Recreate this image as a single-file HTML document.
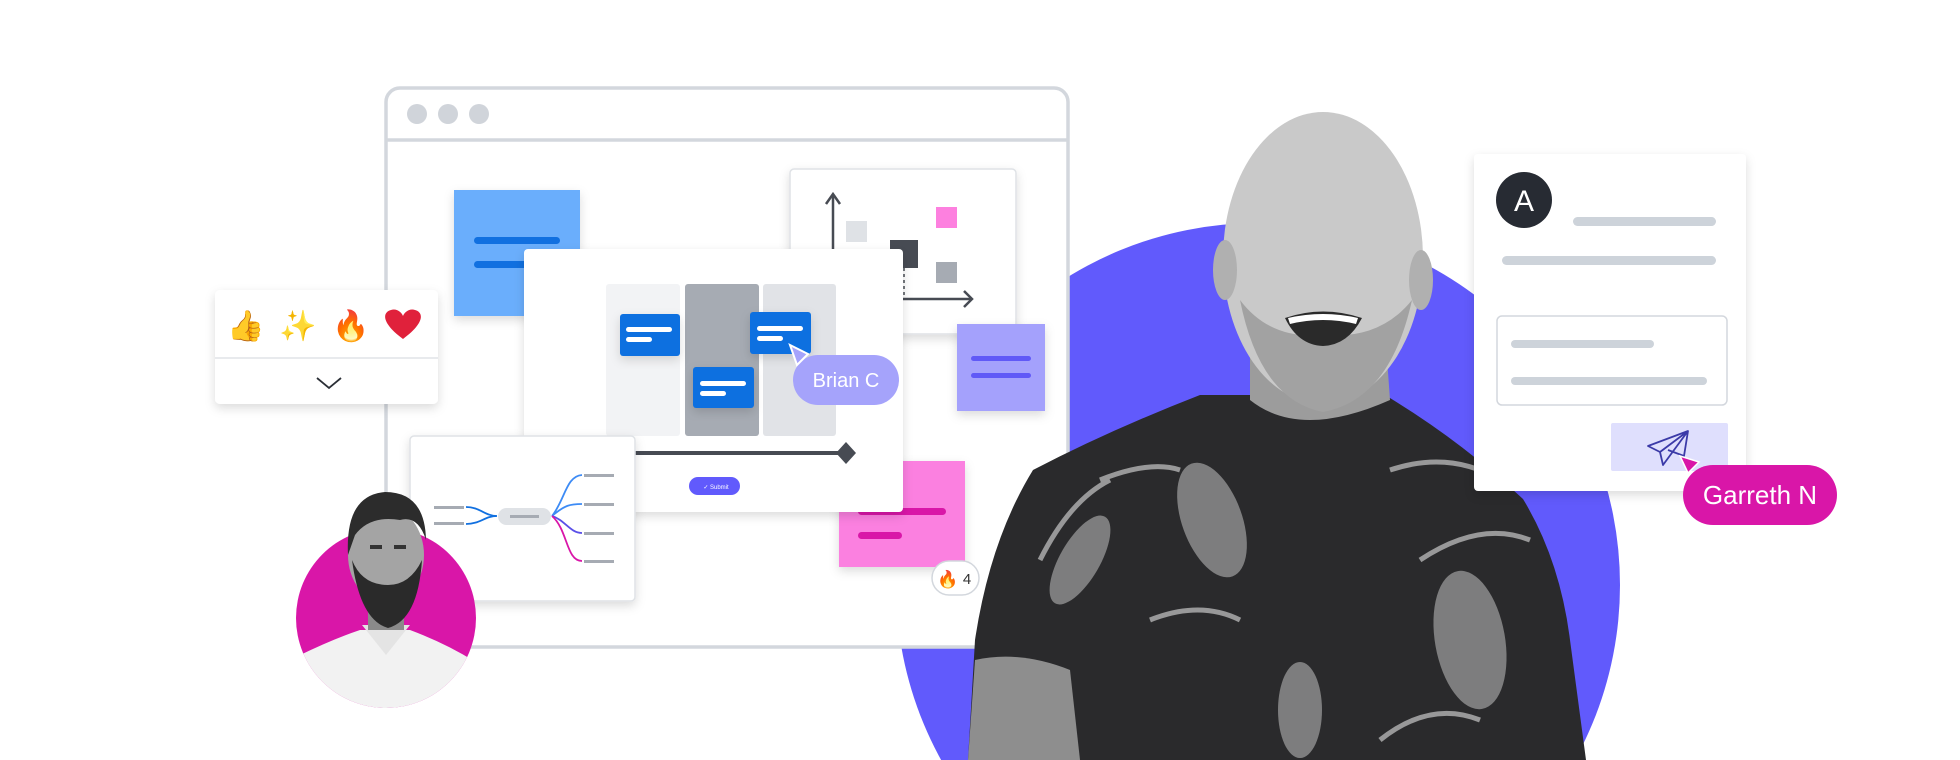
<!DOCTYPE html>
<html><head><meta charset="utf-8"><style>
html,body{margin:0;padding:0;background:#fff;width:1960px;height:760px;overflow:hidden;}
svg{display:block;}
text{font-family:"Liberation Sans",sans-serif;}
</style></head><body>
<svg width="1960" height="760" viewBox="0 0 1960 760" xmlns="http://www.w3.org/2000/svg">
<defs>
<filter id="sh" x="-20%" y="-20%" width="140%" height="150%"><feDropShadow dx="0" dy="4" stdDeviation="5" flood-color="#000" flood-opacity="0.14"/></filter>
<clipPath id="pc2"><rect x="0" y="0" width="1960" height="618"/><circle cx="386" cy="618" r="90"/></clipPath>
<clipPath id="frame"><rect x="0" y="0" width="1960" height="760"/></clipPath>
</defs>
<g clip-path="url(#frame)">
<circle cx="1258" cy="585" r="362" fill="#615afc"/>
</g>
<rect x="386" y="88" width="682" height="559" rx="14" fill="#fff" stroke="#d3d7dd" stroke-width="3.5"/>
<line x1="386" y1="140" x2="1068" y2="140" stroke="#d3d7dd" stroke-width="3.5"/>
<circle cx="417" cy="114" r="10" fill="#d0d4da"/><circle cx="448" cy="114" r="10" fill="#d0d4da"/><circle cx="479" cy="114" r="10" fill="#d0d4da"/>
<rect x="454" y="190" width="126" height="126" fill="#6aaefc" filter="url(#sh)"/>
<rect x="474" y="237" width="86" height="7" rx="3.5" fill="#1170e0"/>
<rect x="474" y="261" width="86" height="7" rx="3.5" fill="#1170e0"/>
<rect x="790" y="169" width="226" height="165" rx="4" fill="#fff" stroke="#dfe2e6" stroke-width="1.5" filter="url(#sh)"/>
<line x1="833" y1="196" x2="833" y2="300" stroke="#474b53" stroke-width="2.5"/>
<polyline points="826,204 833,194 840,204" fill="none" stroke="#474b53" stroke-width="2.5"/>
<line x1="833" y1="299" x2="972" y2="299" stroke="#474b53" stroke-width="2.5"/>
<polyline points="964,291 972,299 964,307" fill="none" stroke="#474b53" stroke-width="2.5"/>
<rect x="846" y="221" width="21" height="21" fill="#dfe2e6"/>
<rect x="936" y="207" width="21" height="21" fill="#fd80df"/>
<rect x="890" y="240" width="28" height="28" fill="#474b53"/>
<rect x="936" y="262" width="21" height="21" fill="#a6abb3"/>
<line x1="904" y1="268" x2="904" y2="299" stroke="#474b53" stroke-width="1.5" stroke-dasharray="3,3"/>
<rect x="957" y="324" width="88" height="87" fill="#a4a1fc" filter="url(#sh)"/>
<rect x="971" y="356" width="60" height="5" rx="2.5" fill="#6059f7"/>
<rect x="971" y="373" width="60" height="5" rx="2.5" fill="#6059f7"/>
<rect x="839" y="461" width="126" height="106" fill="#fb80e0" filter="url(#sh)"/>
<rect x="858" y="508" width="88" height="7" rx="3.5" fill="#d916a8"/>
<rect x="858" y="532" width="44" height="7" rx="3.5" fill="#d916a8"/>
<rect x="524" y="249" width="379" height="263" rx="4" fill="#fff" filter="url(#sh)"/>
<rect x="606" y="284" width="74" height="152" rx="3" fill="#f2f3f5"/>
<rect x="685" y="284" width="74" height="152" rx="3" fill="#a6abb3"/>
<rect x="763" y="284" width="73" height="152" rx="3" fill="#e1e3e7"/>
<rect x="620" y="314" width="60" height="42" rx="3" fill="#1170e0" filter="url(#sh)"/>
<rect x="626" y="327" width="46" height="5" rx="2.5" fill="#fff"/><rect x="626" y="337" width="26" height="5" rx="2.5" fill="#fff"/>
<rect x="750" y="312" width="61" height="42" rx="3" fill="#1170e0" filter="url(#sh)"/>
<rect x="757" y="326" width="46" height="5" rx="2.5" fill="#fff"/><rect x="757" y="336" width="26" height="5" rx="2.5" fill="#fff"/>
<rect x="693" y="367" width="61" height="41" rx="3" fill="#1170e0" filter="url(#sh)"/>
<rect x="700" y="381" width="46" height="5" rx="2.5" fill="#fff"/><rect x="700" y="391" width="26" height="5" rx="2.5" fill="#fff"/>
<line x1="620" y1="453" x2="840" y2="453" stroke="#474b53" stroke-width="4"/>
<polygon points="846,442 856,453 846,464 836,453" fill="#474b53"/>
<rect x="689" y="477" width="51" height="18" rx="9" fill="#615afc"/>
<text x="716" y="489" font-size="6" fill="#fff" text-anchor="middle">✓ Submit</text>
<rect x="793" y="355" width="106" height="50" rx="25" fill="#a5a3fb"/>
<text x="846" y="387" font-size="20" fill="#fff" text-anchor="middle">Brian C</text>
<polygon points="790,345 808,354 797,365" fill="#a5a3fb" stroke="#fff" stroke-width="2"/>
<rect x="215" y="290" width="223" height="114" rx="5" fill="#fff" filter="url(#sh)"/>
<line x1="215" y1="358" x2="438" y2="358" stroke="#e1e3e7" stroke-width="1.5"/>
<text x="246" y="336" font-size="30" text-anchor="middle" fill="#f6c443">👍</text>
<text x="298" y="336" font-size="30" text-anchor="middle" fill="#f6a623">✨</text>
<text x="351" y="336" font-size="30" text-anchor="middle" fill="#f28a0d">🔥</text>
<path d="M403,339 C380,322 383,312 391,310 C397,308 402,313 403,316 C404,313 409,308 415,310 C423,312 426,322 403,339 Z" fill="#e0213b"/>
<polyline points="317,378 329,388 341,378" fill="none" stroke="#2b2f36" stroke-width="1.8"/>
<rect x="410" y="436" width="225" height="165" rx="4" fill="#fff" stroke="#dfe2e6" stroke-width="1.5" filter="url(#sh)"/>
<rect x="434" y="506" width="30" height="3" fill="#a6abb3"/><rect x="434" y="522" width="30" height="3" fill="#a6abb3"/>
<path d="M466,507 C480,507 485,516 497,516 M466,524 C480,524 485,516 497,516" fill="none" stroke="#1170e0" stroke-width="1.8"/>
<rect x="498" y="508" width="53" height="17" rx="8.5" fill="#dfe2e6"/>
<rect x="510" y="515" width="29" height="3" fill="#a6abb3"/>
<path d="M552,516 C565,500 566,476 582,475 M552,516 C565,505 570,504 582,504" fill="none" stroke="#3d8bf5" stroke-width="1.8"/>
<path d="M552,516 C565,520 570,533 582,533" fill="none" stroke="#5a4fe8" stroke-width="1.8"/>
<path d="M552,516 C568,530 566,561 582,561" fill="none" stroke="#d916a8" stroke-width="1.8"/>
<rect x="584" y="474" width="30" height="3" fill="#a6abb3"/><rect x="584" y="503" width="30" height="3" fill="#a6abb3"/>
<rect x="584" y="532" width="30" height="3" fill="#a6abb3"/><rect x="584" y="560" width="30" height="3" fill="#a6abb3"/>
<circle cx="386" cy="618" r="90" fill="#d916a8"/>
<g clip-path="url(#pc2)">
<path d="M290,660 Q330,640 360,630 L410,630 Q450,645 480,665 L480,720 L290,720 Z" fill="#f2f2f2"/>
<path d="M362,625 L386,655 L410,625 Z" fill="#e4e4e4"/>
<rect x="368" y="585" width="36" height="45" fill="#8a8a8a"/>
<ellipse cx="386" cy="555" rx="38" ry="48" fill="#a4a4a4"/>
<path d="M348,555 Q345,495 385,492 Q425,492 426,540 Q418,515 400,520 Q370,515 355,535 Z" fill="#2c2c2c"/>
<path d="M352,560 Q360,620 388,628 Q418,620 422,560 Q410,585 388,585 Q362,585 352,560 Z" fill="#2a2a2a"/>
<rect x="370" y="545" width="12" height="4" fill="#333"/><rect x="394" y="545" width="12" height="4" fill="#333"/>
</g>
<rect x="932" y="561" width="47" height="34" rx="17" fill="#fff" stroke="#d3d7dd" stroke-width="1.5"/>
<text x="948" y="585" font-size="17" text-anchor="middle" fill="#f28a0d">🔥</text>
<text x="967" y="584" font-size="15" fill="#333" text-anchor="middle">4</text>
<g clip-path="url(#frame)">
<path d="M968,760 L975,640 Q990,540 1033,470 Q1110,430 1200,395 L1385,395 Q1460,440 1523,499 Q1560,560 1570,640 L1586,760 Z" fill="#2a2a2c"/>
<path d="M968,760 L975,660 Q1020,650 1070,670 L1080,760 Z" fill="#8e8e8e"/>
<g fill="#9a9a9a" opacity="0.75">
<ellipse cx="1212" cy="520" rx="30" ry="60" transform="rotate(-20 1212 520)"/>
<ellipse cx="1470" cy="640" rx="35" ry="70" transform="rotate(-10 1470 640)"/>
<ellipse cx="1080" cy="560" rx="20" ry="50" transform="rotate(30 1080 560)"/>
<ellipse cx="1300" cy="710" rx="22" ry="48"/>
</g>
<g stroke="#c8c8c8" stroke-width="5" fill="none" opacity="0.7">
<path d="M1100,480 Q1150,460 1180,470"/><path d="M1390,470 Q1450,450 1500,480"/>
<path d="M1040,560 Q1070,500 1110,480"/><path d="M1420,560 Q1480,520 1530,540"/>
<path d="M1150,620 Q1200,600 1240,620"/><path d="M1380,740 Q1430,700 1480,720"/>
</g>
</g>
<path d="M1250,330 L1250,400 Q1300,440 1390,400 L1385,330 Z" fill="#9c9c9c"/>
<ellipse cx="1323" cy="258" rx="100" ry="146" fill="#c9c9c9"/>
<ellipse cx="1225" cy="270" rx="12" ry="30" fill="#b0b0b0"/>
<ellipse cx="1421" cy="280" rx="12" ry="30" fill="#b0b0b0"/>
<path d="M1240,300 Q1260,400 1323,412 Q1390,400 1412,300 Q1380,340 1323,335 Q1270,340 1240,300 Z" fill="#a2a2a2"/>
<path d="M1285,318 Q1323,305 1362,318 Q1348,345 1323,346 Q1298,345 1285,318 Z" fill="#2a2a2a"/>
<path d="M1288,318 Q1323,310 1358,318 L1356,324 Q1323,316 1290,324 Z" fill="#fff"/>
<rect x="1474" y="154" width="272" height="337" rx="4" fill="#fff" filter="url(#sh)"/>
<circle cx="1524" cy="200" r="28" fill="#272b33"/>
<text x="1524" y="211" font-size="30" fill="#fff" text-anchor="middle">A</text>
<rect x="1573" y="217" width="143" height="9" rx="4.5" fill="#cdd3da"/>
<rect x="1502" y="256" width="214" height="9" rx="4.5" fill="#cdd3da"/>
<rect x="1497" y="316" width="230" height="89" rx="5" fill="#fff" stroke="#d3d7dd" stroke-width="1.5"/>
<rect x="1511" y="340" width="143" height="8" rx="4" fill="#cdd3da"/>
<rect x="1511" y="377" width="196" height="8" rx="4" fill="#cdd3da"/>
<rect x="1611" y="423" width="117" height="48" rx="2" fill="#dfdffd"/>
<path d="M1688,431 L1648,446 L1660,452 Z M1688,431 L1663,465 L1660,452 M1688,431 L1684,456 L1668,450" fill="none" stroke="#3b3aa8" stroke-width="1.8" stroke-linejoin="round"/>
<rect x="1683" y="465" width="154" height="60" rx="30" fill="#d916a8"/>
<text x="1760" y="504" font-size="26" fill="#fff" text-anchor="middle">Garreth N</text>
<polygon points="1680,456 1699,462 1688,473" fill="#d916a8" stroke="#fff" stroke-width="1.5"/>
</svg>
</body></html>
